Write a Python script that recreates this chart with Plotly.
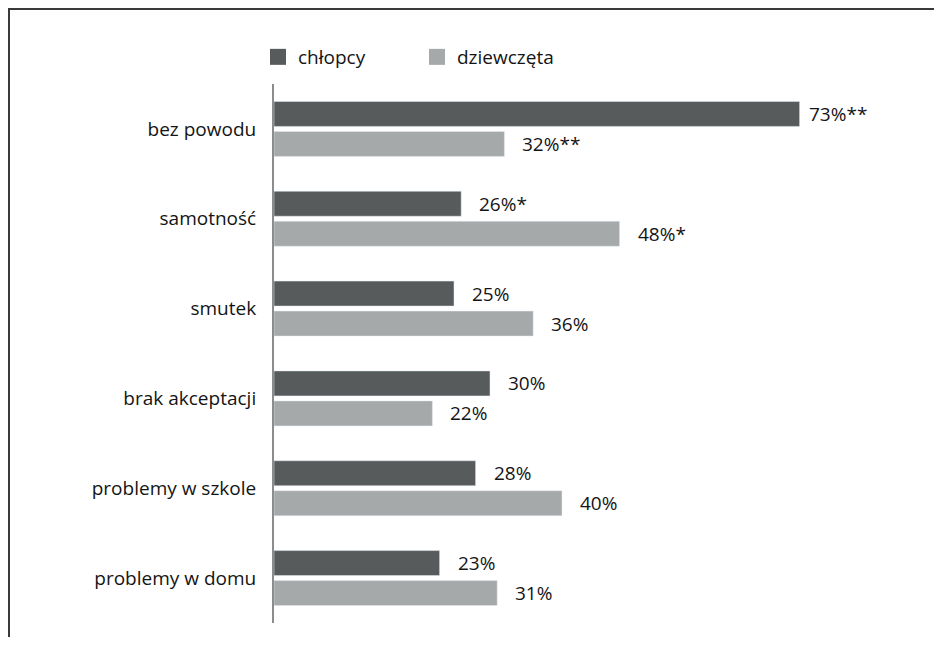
import plotly.graph_objects as go

categories = ["bez powodu", "samotność", "smutek", "brak akceptacji", "problemy w szkole", "problemy w domu"]
chlopcy = [73, 26, 25, 30, 28, 23]
dziewczeta = [32, 48, 36, 22, 40, 31]
chlopcy_labels = ["73%**", "26%*", "25%", "30%", "28%", "23%"]
dziewczeta_labels = ["32%**", "48%*", "36%", "22%", "40%", "31%"]
series_names = ["chłopcy", "dziewczęta"]

C_DARK = "#575b5c"
C_LIGHT = "#a6a9a9"
FONT = "Open Sans"
TXT = "#141414"
FS = 19

# figure coordinates (page has an 8px body margin)
W, H = 926, 629
L, T, B = 266, 76, 14
XMAX = 85
PX_PER_UNIT = 7.2
PW = XMAX * PX_PER_UNIT
R = W - L - PW
PH = H - T - B

fig = go.Figure()
fig.add_trace(go.Bar(y=categories, x=chlopcy, orientation="h", marker_color=C_DARK,
                     name=series_names[0], showlegend=False))
fig.add_trace(go.Bar(y=categories, x=dziewczeta, orientation="h", marker_color=C_LIGHT,
                     name=series_names[1], showlegend=False))
# legend swatches
for nm, col in zip(series_names, [C_DARK, C_LIGHT]):
    fig.add_trace(go.Scatter(x=[None], y=[None], mode="markers", name=nm,
                             marker=dict(symbol="square", size=16, color=col)))

annotations = []
for vals, labs, ysh in [(chlopcy, chlopcy_labels, 15), (dziewczeta, dziewczeta_labels, -15)]:
    for c, v, lab in zip(categories, vals, labs):
        xs = 7 if v > 60 else 16
        annotations.append(dict(x=v, y=c, xref="x", yref="y", text=lab, showarrow=False,
                                xanchor="left", yanchor="middle", xshift=xs, yshift=ysh,
                                font=dict(family=FONT, size=FS, color=TXT)))

def px2x(px):
    return (px - L) / PW

def py2y(py):
    return (H - B - py) / PH

shapes = [
    dict(type="line", xref="paper", yref="paper", x0=px2x(0), x1=px2x(W + 5), y0=py2y(1), y1=py2y(1),
         line=dict(color="#3a3a3a", width=2)),
    dict(type="line", xref="paper", yref="paper", x0=px2x(1), x1=px2x(1), y0=py2y(0), y1=py2y(H + 5),
         line=dict(color="#3a3a3a", width=2)),
]

fig.update_layout(
    width=W, height=H,
    margin=dict(l=L, r=R, t=T, b=B, pad=0),
    paper_bgcolor="white", plot_bgcolor="white",
    barmode="group", bargap=0.332, bargroupgap=0.167,
    font=dict(family=FONT, size=FS, color=TXT),
    xaxis=dict(range=[0, XMAX], visible=False, showgrid=False, zeroline=False),
    yaxis=dict(autorange="reversed", showline=True, linecolor="#8c8c8c", linewidth=2,
               ticks="", ticklabelstandoff=12, showgrid=False, zeroline=False,
               tickfont=dict(family=FONT, size=FS, color=TXT)),
    legend=dict(orientation="h", x=px2x(250), y=py2y(49), xanchor="left", yanchor="middle",
                entrywidth=114, entrywidthmode="pixels",
                font=dict(family=FONT, size=FS, color=TXT), bgcolor="rgba(0,0,0,0)"),
    annotations=annotations,
    shapes=shapes,
)

fig.write_html("out.html")
